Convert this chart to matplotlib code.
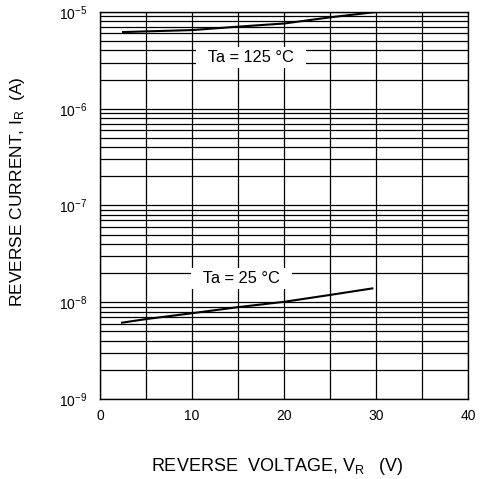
import matplotlib
matplotlib.use("Agg")
import matplotlib.pyplot as plt
from matplotlib.ticker import LogLocator, NullFormatter, FixedLocator

plt.rcParams['font.family'] = ['Liberation Sans', 'DejaVu Sans']
plt.rcParams['mathtext.fontset'] = 'custom'
plt.rcParams['mathtext.rm'] = 'Liberation Sans'
plt.rcParams['mathtext.it'] = 'Liberation Sans'

# reverse current vs reverse voltage
vr_125 = [2.5, 5, 10, 15, 20, 25, 30]
ir_125 = [6.2e-6, 6.3e-6, 6.5e-6, 7.05e-6, 7.6e-6, 8.8e-6, 1.0e-5]
vr_25 = [2.4, 5, 10, 15, 20, 25, 29.6]
ir_25 = [6.15e-9, 6.7e-9, 7.7e-9, 8.9e-9, 1.01e-8, 1.19e-8, 1.39e-8]
labels = ["Ta = 125 °C", "Ta = 25 °C"]
xticks = [0, 10, 20, 30, 40]
yticks = [1e-9, 1e-8, 1e-7, 1e-6, 1e-5]
ytick_labels = [r"$10^{-9}$", r"$10^{-8}$", r"$10^{-7}$", r"$10^{-6}$", r"$10^{-5}$"]

fig = plt.figure(figsize=(4.81, 4.79), dpi=100)
ax = fig.add_axes([0.208, 0.167, 0.765, 0.808])

ax.set_yscale('log')
ax.set_xlim(0, 40)
ax.set_ylim(1e-9, 1e-5)

ax.xaxis.set_major_locator(FixedLocator(xticks))
ax.xaxis.set_minor_locator(FixedLocator(range(0, 41, 5)))
ax.set_yticks(yticks)
ax.set_yticklabels(ytick_labels)
ax.yaxis.set_minor_locator(LogLocator(base=10, subs=range(2, 10)))
ax.yaxis.set_minor_formatter(NullFormatter())

ax.grid(True, which='both', color='black', linewidth=0.9)
ax.tick_params(which='both', length=0)
ax.tick_params(axis='x', labelsize=10, pad=7)
ax.tick_params(axis='y', labelsize=10, pad=9)
for s in ax.spines.values():
    s.set_linewidth(1.0)
    s.set_color('black')

ax.plot(vr_125, ir_125, color='black', linewidth=1.5, zorder=3)
ax.plot(vr_25, ir_25, color='black', linewidth=1.5, zorder=3)

ax.text(16.4, 3.4e-6, "  " + labels[0] + "  ", ha='center', va='center', fontsize=11.8,
        bbox=dict(facecolor='white', edgecolor='none', pad=2), zorder=4)
ax.text(15.4, 1.75e-8, "  " + labels[1] + "  ", ha='center', va='center', fontsize=11.8,
        bbox=dict(facecolor='white', edgecolor='none', pad=2), zorder=4)

ax.set_xlabel(r"REVERSE  VOLTAGE, V$_\mathregular{R}$   (V)", fontsize=13)
ax.set_ylabel(r"REVERSE CURRENT, I$_\mathregular{R}$  (A)", fontsize=12.5)
ax.xaxis.set_label_coords(0.481, -0.148)
ax.yaxis.set_label_coords(-0.199, 0.535)

fig.savefig("out.png", dpi=100)
